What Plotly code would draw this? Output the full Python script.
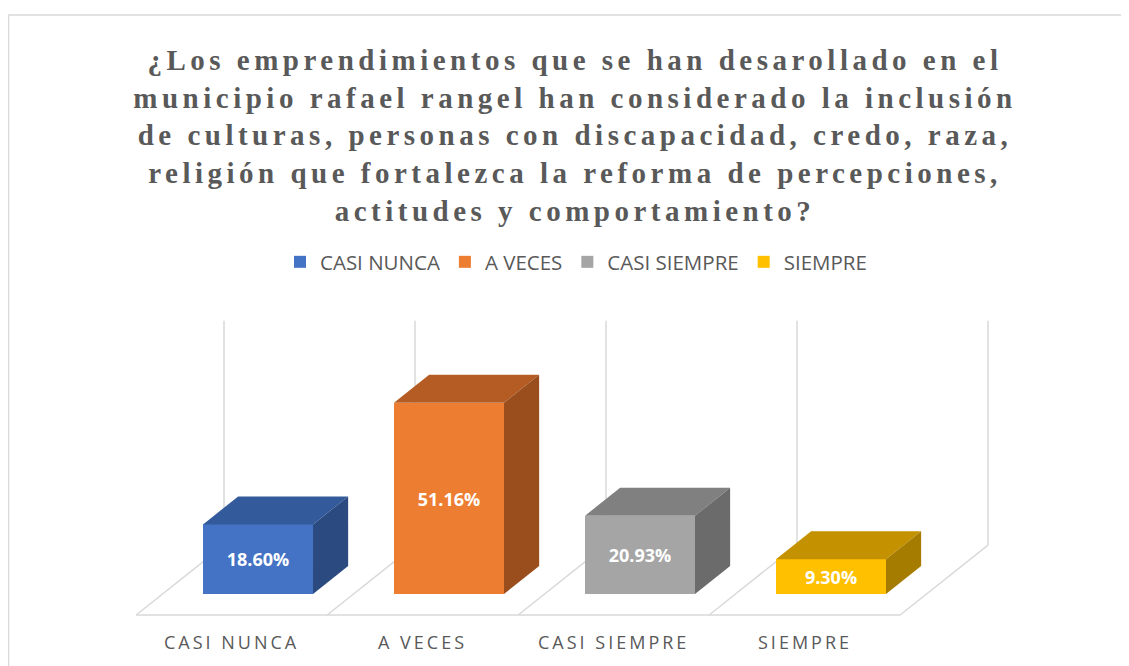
import plotly.graph_objects as go

# ---- data ----
categories = ["CASI NUNCA", "A VECES", "CASI SIEMPRE", "SIEMPRE"]
values = [18.60, 51.16, 20.93, 9.30]
value_labels = ["18.60%", "51.16%", "20.93%", "9.30%"]
axis_max = 60

# ---- styles ----
front_colors = ["#4472C4", "#ED7D31", "#A5A5A5", "#FFC000"]
top_colors = ["#335A9A", "#B45C23", "#808080", "#C49100"]
side_colors = ["#2B4A80", "#9A4E1D", "#6B6B6B", "#A67C00"]
grid_color = "#D9D9D9"
text_gray = "#595959"

W, H = 1129, 666
OFF = 8                # page body margin compensation (px)
X0_PX, Y0_PX = 258 - OFF, 594 - OFF   # pixel of (category 0, value 0)
PX_PER_CAT, PX_PER_PCT = 191, 3.74
BAR_W = 0.576          # bar front width (category units)
FLOOR_DX, FLOOR_DY = 0.46, 18.7    # full floor depth vector
BAR_FRONT, BAR_BACK = 0.3, 0.7     # bar depth fraction on the floor
BDX = (BAR_BACK - BAR_FRONT) * FLOOR_DX
BDY = (BAR_BACK - BAR_FRONT) * FLOOR_DY

fig = go.Figure()

# front faces
for i, (c, v, lab) in enumerate(zip(categories, values, value_labels)):
    fig.add_trace(go.Bar(
        x=[i], y=[v], width=BAR_W, name=c,
        marker=dict(color=front_colors[i], line=dict(width=0)),
        text=[lab], textposition="inside", insidetextanchor="middle",
        textangle=0,
        textfont=dict(family="Open Sans", size=18, color="white", weight="bold"),
        hoverinfo="skip",
    ))

# top and side faces
for i, v in enumerate(values):
    xl, xr = i - BAR_W / 2, i + BAR_W / 2
    fig.add_trace(go.Scatter(
        x=[xl, xr, xr + BDX, xl + BDX, xl], y=[v, v, v + BDY, v + BDY, v],
        fill="toself", fillcolor=top_colors[i], mode="lines",
        line=dict(width=0, color=top_colors[i]), showlegend=False, hoverinfo="skip"))
    fig.add_trace(go.Scatter(
        x=[xr, xr + BDX, xr + BDX, xr, xr], y=[0, BDY, v + BDY, v, 0],
        fill="toself", fillcolor=side_colors[i], mode="lines",
        line=dict(width=0, color=side_colors[i]), showlegend=False, hoverinfo="skip"))

# floor and back-wall lines
n = len(categories)
fx0 = -BAR_FRONT * FLOOR_DX
fy_front = -BAR_FRONT * FLOOR_DY
fy_back = fy_front + FLOOR_DY
shapes = []
line = dict(color=grid_color, width=1.5)
shapes.append(dict(type="line", xref="x", yref="y", layer="below",
                   x0=-0.5 + fx0, y0=fy_front, x1=n - 0.5 + fx0, y1=fy_front, line=line))
for k in range(n + 1):
    xf = k - 0.5 + fx0
    xb = xf + FLOOR_DX
    shapes.append(dict(type="line", xref="x", yref="y", layer="below",
                       x0=xf, y0=fy_front, x1=xb, y1=fy_back, line=line))
    shapes.append(dict(type="line", xref="x", yref="y", layer="below",
                       x0=xb, y0=fy_back, x1=xb, y1=fy_back + axis_max, line=line))
# chart border
shapes.append(dict(type="rect", xref="paper", yref="paper", layer="below",
                   x0=0.5 / W, y0=-0.1, x1=1.1, y1=1 - (15 - OFF) / H,
                   line=dict(color=grid_color, width=1.5)))

# category labels
annotations = []
for i, c in enumerate(categories):
    annotations.append(dict(
        x=i + fx0, y=fy_front, xref="x", yref="y", yshift=-27,
        text=f'<span style="letter-spacing:3px">{c}</span>', showarrow=False,
        font=dict(family="Open Sans", size=18, color=text_gray)))

title_lines = [
    "¿Los emprendimientos que se han desarollado en el",
    "municipio rafael rangel han considerado la inclusión",
    "de culturas, personas con discapacidad, credo, raza,",
    "religión que fortalezca la reforma de percepciones,",
    "actitudes y comportamiento?",
]
title_text = "<br>".join(f'<span style="letter-spacing:4.5px">{t}</span>' for t in title_lines)

fig.update_layout(
    width=W, height=H,
    margin=dict(l=0, r=0, t=0, b=0),
    paper_bgcolor="white", plot_bgcolor="white",
    showlegend=True,
    title=dict(text=title_text, x=(575 - OFF) / W, xanchor="center", y=1 - 62 / H, yanchor="top",
               font=dict(family="Liberation Serif", size=29, color=text_gray, weight="bold")),
    legend=dict(orientation="h", x=568 / W, xanchor="center", y=1 - 234 / H, yanchor="top",
                font=dict(family="Open Sans", size=20.5, color=text_gray),
                itemwidth=30, bgcolor="rgba(0,0,0,0)"),
    xaxis=dict(range=[-X0_PX / PX_PER_CAT, (W - X0_PX) / PX_PER_CAT], visible=False, fixedrange=True),
    yaxis=dict(range=[-(H - Y0_PX) / PX_PER_PCT, Y0_PX / PX_PER_PCT], visible=False, fixedrange=True),
    shapes=shapes, annotations=annotations,
    bargap=0,
)

fig.write_html("out.html")
